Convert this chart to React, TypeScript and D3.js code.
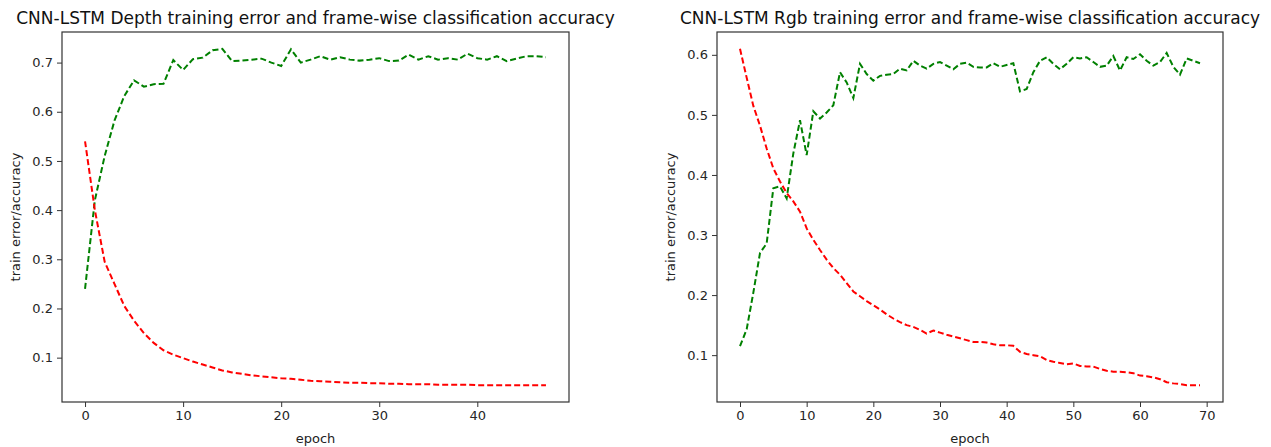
import React, { useEffect, useRef } from "react";
import * as d3 from "d3";

// CNN-LSTM Depth: one value per epoch (0..47)
const depthError = [
  0.54, 0.4, 0.295, 0.25, 0.205, 0.175, 0.15, 0.13, 0.115, 0.106, 0.099, 0.092,
  0.086, 0.08, 0.074, 0.07, 0.067, 0.064, 0.062, 0.06, 0.058, 0.057, 0.055,
  0.053, 0.052, 0.051, 0.05, 0.049, 0.049, 0.048, 0.048, 0.047, 0.047, 0.046,
  0.046, 0.046, 0.045, 0.045, 0.045, 0.045, 0.044, 0.044, 0.044, 0.044, 0.044,
  0.044, 0.044, 0.044,
];
const depthAccuracy = [
  0.24, 0.42, 0.51, 0.582, 0.632, 0.664, 0.651, 0.656, 0.657, 0.705, 0.685,
  0.707, 0.71, 0.725, 0.728, 0.703, 0.704, 0.706, 0.708, 0.7, 0.693, 0.727,
  0.7, 0.706, 0.713, 0.706, 0.711, 0.706, 0.704, 0.706, 0.709, 0.703, 0.704,
  0.716, 0.706, 0.713, 0.706, 0.709, 0.706, 0.718, 0.709, 0.706, 0.713, 0.703,
  0.708, 0.713, 0.713, 0.711,
];

// CNN-LSTM Rgb: one value per epoch (0..69)
const rgbError = [
  0.61, 0.562, 0.515, 0.482, 0.444, 0.411, 0.389, 0.37, 0.356, 0.339, 0.311,
  0.292, 0.275, 0.259, 0.245, 0.234, 0.22, 0.206, 0.198, 0.19, 0.183, 0.176,
  0.168, 0.161, 0.155, 0.15, 0.147, 0.142, 0.136, 0.141, 0.1375, 0.134, 0.131,
  0.128, 0.125, 0.122, 0.122, 0.121, 0.118, 0.1165, 0.1165, 0.1155, 0.1055,
  0.102, 0.1, 0.098, 0.092, 0.089, 0.087, 0.085, 0.086, 0.082, 0.081, 0.081,
  0.077, 0.074, 0.0725, 0.0725, 0.0715, 0.07, 0.066, 0.065, 0.063, 0.06, 0.055,
  0.053, 0.052, 0.05, 0.05, 0.05,
];
const rgbAccuracy = [
  0.115, 0.143, 0.204, 0.27, 0.286, 0.378, 0.381, 0.361, 0.436, 0.491, 0.433,
  0.506, 0.494, 0.504, 0.516, 0.571, 0.554, 0.528, 0.585, 0.568, 0.557, 0.565,
  0.567, 0.568, 0.577, 0.574, 0.59, 0.582, 0.577, 0.585, 0.588, 0.582, 0.576,
  0.585, 0.587, 0.58, 0.579, 0.579, 0.586, 0.58, 0.583, 0.586, 0.539, 0.543,
  0.571, 0.59, 0.596, 0.585, 0.576, 0.585, 0.596, 0.594, 0.596, 0.588, 0.58,
  0.582, 0.598, 0.574, 0.596, 0.593, 0.601, 0.59, 0.582, 0.588, 0.603, 0.58,
  0.567, 0.594, 0.59, 0.586,
];

const depthXTicks = [0, 10, 20, 30, 40];
const depthYTicks = [0.1, 0.2, 0.3, 0.4, 0.5, 0.6, 0.7];
const rgbXTicks = [0, 10, 20, 30, 40, 50, 60, 70];
const rgbYTicks = [0.1, 0.2, 0.3, 0.4, 0.5, 0.6];

const panels = [
  {
    title: "CNN-LSTM Depth training error and frame-wise classification accuracy",
    error: depthError,
    accuracy: depthAccuracy,
    xTicks: depthXTicks,
    yTicks: depthYTicks,
    left: 62,
    right: 569,
  },
  {
    title: "CNN-LSTM Rgb training error and frame-wise classification accuracy",
    error: rgbError,
    accuracy: rgbAccuracy,
    xTicks: rgbXTicks,
    yTicks: rgbYTicks,
    left: 717,
    right: 1223,
  },
];

const FONT = "DejaVu Sans, sans-serif";

const App = () => {
  const chartRef = useRef(null);

  const drawChart = () => {
    const svg = d3.select(chartRef.current);
    svg.selectAll("*").remove();

    const top = 32;
    const bottom = 402;

    panels.forEach((p) => {
      const n = p.error.length - 1;
      // matplotlib style 5% margins
      const xScale = d3
        .scaleLinear()
        .domain([-n * 0.05, n * 1.05])
        .range([p.left, p.right]);

      const all = p.error.concat(p.accuracy);
      const lo = d3.min(all);
      const hi = d3.max(all);
      const pad = (hi - lo) * 0.05;
      const yScale = d3
        .scaleLinear()
        .domain([lo - pad, hi + pad])
        .range([bottom, top]);

      const g = svg.append("g");

      const line = d3
        .line()
        .x((d, i) => xScale(i))
        .y((d) => yScale(d));

      g.append("path")
        .attr("d", line(p.accuracy))
        .attr("fill", "none")
        .attr("stroke", "#008000")
        .attr("stroke-width", 2)
        .attr("stroke-dasharray", "6,3");

      g.append("path")
        .attr("d", line(p.error))
        .attr("fill", "none")
        .attr("stroke", "#ff0000")
        .attr("stroke-width", 2)
        .attr("stroke-dasharray", "6,3");

      // frame
      g.append("rect")
        .attr("x", p.left)
        .attr("y", top)
        .attr("width", p.right - p.left)
        .attr("height", bottom - top)
        .attr("fill", "none")
        .attr("stroke", "#333")
        .attr("stroke-width", 1.2);

      const xAxis = d3.axisBottom(xScale).tickValues(p.xTicks).tickSize(5).tickPadding(4);
      g.append("g")
        .attr("transform", `translate(0,${bottom})`)
        .call(xAxis)
        .call((a) => a.select(".domain").remove());

      const yAxis = d3
        .axisLeft(yScale)
        .tickValues(p.yTicks)
        .tickFormat(d3.format(".1f"))
        .tickSize(5)
        .tickPadding(4);
      g.append("g")
        .attr("transform", `translate(${p.left},0)`)
        .call(yAxis)
        .call((a) => a.select(".domain").remove());

      g.selectAll(".tick line").attr("stroke", "#333");
      g.selectAll(".tick text")
        .attr("fill", "#262626")
        .style("font-family", FONT)
        .style("font-size", "13px");

      const cx = (p.left + p.right) / 2;
      g.append("text")
        .attr("x", cx)
        .attr("y", 24)
        .attr("text-anchor", "middle")
        .style("font-family", FONT)
        .style("font-size", "17px")
        .attr("fill", "#111")
        .text(p.title);

      g.append("text")
        .attr("x", cx)
        .attr("y", 443)
        .attr("text-anchor", "middle")
        .style("font-family", FONT)
        .style("font-size", "13px")
        .attr("fill", "#222")
        .text("epoch");

      g.append("text")
        .attr("transform", `translate(${p.left - 42},${(top + bottom) / 2}) rotate(-90)`)
        .attr("text-anchor", "middle")
        .style("font-family", FONT)
        .style("font-size", "13px")
        .attr("fill", "#222")
        .text("train error/accuracy");
    });
  };

  useEffect(() => {
    drawChart();
  }, []);

  return (
    <svg
      ref={chartRef}
      width={1271}
      height={447}
      style={{ position: "absolute", left: 0, top: 0, background: "#fff" }}
    ></svg>
  );
};

export default App;
